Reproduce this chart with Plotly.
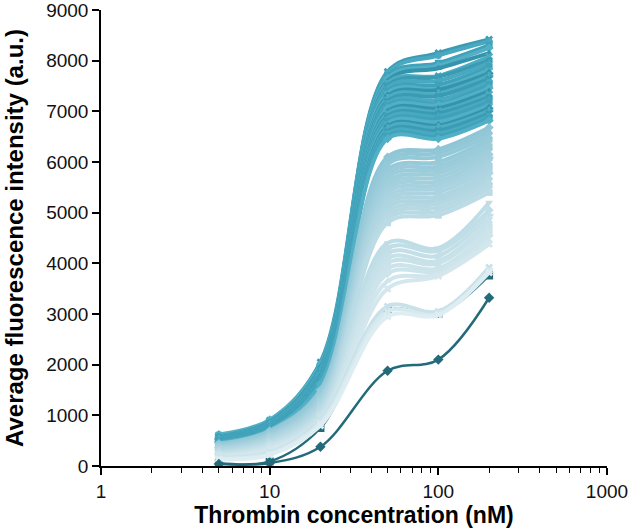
import plotly.graph_objects as go

conc = [5, 10, 20, 50, 100, 200]

# Bright teal group (high responders)
teal_rows = [
    [610, 900, 2050, 7780, 8150, 8420],
    [600, 890, 2000, 7750, 8100, 8380],
    [590, 880, 1980, 7700, 7950, 8300],
    [620, 910, 2010, 7650, 7900, 8250],
    [580, 870, 1950, 7600, 7850, 8150],
    [575, 860, 1940, 7560, 7700, 8080],
    [570, 850, 1930, 7500, 7680, 8000],
    [560, 845, 1900, 7460, 7600, 7950],
    [555, 840, 1890, 7400, 7520, 7880],
    [550, 830, 1880, 7360, 7450, 7820],
    [545, 825, 1860, 7300, 7420, 7750],
    [540, 820, 1850, 7260, 7350, 7700],
    [535, 810, 1830, 7200, 7300, 7640],
    [530, 805, 1820, 7150, 7220, 7580],
    [525, 800, 1800, 7110, 7150, 7520],
    [520, 790, 1790, 7060, 7120, 7460],
    [515, 785, 1780, 7000, 7060, 7400],
    [510, 780, 1760, 6960, 7000, 7340],
    [505, 770, 1750, 6900, 6960, 7280],
    [500, 765, 1740, 6860, 6900, 7230],
    [495, 760, 1720, 6800, 6850, 7180],
    [490, 750, 1700, 6760, 6790, 7120],
    [485, 745, 1690, 6700, 6720, 7060],
    [480, 740, 1680, 6660, 6680, 7010],
    [475, 730, 1660, 6600, 6620, 6960],
    [470, 725, 1650, 6560, 6560, 6900],
    [465, 720, 1630, 6500, 6500, 6860],
    [460, 710, 1620, 6460, 6460, 6820],
]

# Lighter blue group (intermediate responders)
light_rows = [
    [440, 690, 1500, 6100, 6250, 6680],
    [430, 680, 1480, 6020, 6180, 6600],
    [420, 660, 1460, 5950, 6100, 6520],
    [410, 650, 1430, 5850, 6000, 6450],
    [400, 640, 1410, 5780, 5920, 6380],
    [390, 620, 1380, 5700, 5850, 6300],
    [380, 610, 1360, 5620, 5780, 6220],
    [370, 600, 1340, 5550, 5700, 6150],
    [360, 580, 1310, 5480, 5620, 6080],
    [350, 570, 1290, 5400, 5550, 6000],
    [340, 560, 1270, 5320, 5480, 5920],
    [330, 540, 1240, 5250, 5400, 5850],
    [320, 530, 1220, 5180, 5320, 5780],
    [310, 510, 1190, 5100, 5250, 5700],
    [300, 500, 1170, 5020, 5180, 5620],
    [290, 490, 1150, 4950, 5100, 5550],
    [280, 470, 1120, 4880, 5020, 5480],
    [270, 460, 1100, 4800, 4950, 5400],
    [260, 440, 1070, 4400, 4300, 5200],
    [250, 430, 1050, 4300, 4250, 5050],
    [240, 410, 1020, 4200, 4150, 4950],
    [230, 400, 1000, 4100, 4050, 4850],
    [220, 380, 970, 4000, 4000, 4750],
    [210, 370, 950, 3900, 3900, 4650],
    [200, 350, 920, 3800, 3850, 4550],
    [190, 340, 900, 3650, 3780, 4450],
    [180, 320, 870, 3500, 3750, 4380],
]

# Pale lines near the square series
pale_rows = [
    [170, 260, 900, 3150, 3050, 3920],
    [150, 240, 850, 3050, 3000, 3860],
    [130, 220, 800, 2950, 2980, 3820],
]

dark_square = [60, 90, 750, 3060, 3000, 3760]
dark_diamond = [40, 60, 380, 1880, 2100, 3320]

symbols = ["x", "circle", "square", "diamond", "triangle-up", "x", "circle",
           "star", "square", "triangle-down", "diamond", "cross"]


def lerp_color(c1, c2, t):
    a = [int(c1[i:i + 2], 16) for i in (1, 3, 5)]
    b = [int(c2[i:i + 2], 16) for i in (1, 3, 5)]
    return "#" + "".join(f"{round(a[k] + (b[k] - a[k]) * t):02x}" for k in range(3))


fig = go.Figure()

teal_cols = ["#3A9BB3", "#48A9C0", "#3FA2BA", "#52B0C6", "#3594AC", "#4CACC2"]
for i, row in enumerate(teal_rows):
    col = teal_cols[i % len(teal_cols)]
    fig.add_trace(go.Scatter(x=conc, y=row, mode="lines+markers",
                             line=dict(color=col, width=4, shape="spline", smoothing=1),
                             marker=dict(symbol=symbols[i % len(symbols)], size=7, color=col)))

m = len(light_rows)
for i, row in enumerate(light_rows):
    col = lerp_color("#8FC6D6", "#D3E7ED", i / (m - 1))
    fig.add_trace(go.Scatter(x=conc, y=row, mode="lines+markers",
                             line=dict(color=col, width=4, shape="spline", smoothing=1),
                             marker=dict(symbol=symbols[(i + 3) % len(symbols)], size=7, color=col)))

fig.add_trace(go.Scatter(x=conc, y=dark_square, mode="lines+markers",
                         line=dict(color="#236B7A", width=2.5, shape="spline", smoothing=1),
                         marker=dict(symbol="square", size=8, color="#236B7A")))

for i, row in enumerate(pale_rows):
    col = ["#C9E1E9", "#D6E9EF", "#DDEDF2"][i]
    fig.add_trace(go.Scatter(x=conc, y=row, mode="lines+markers",
                             line=dict(color=col, width=4, shape="spline", smoothing=1),
                             marker=dict(symbol="x", size=7, color=col)))

fig.add_trace(go.Scatter(x=conc, y=dark_diamond, mode="lines+markers",
                         line=dict(color="#236B7A", width=2.5, shape="spline", smoothing=1),
                         marker=dict(symbol="diamond", size=8, color="#236B7A")))

fig.update_layout(
    width=630, height=529,
    margin=dict(l=101, r=23, t=10, b=63),
    plot_bgcolor="white", paper_bgcolor="white",
    showlegend=False,
    font=dict(family="Liberation Sans, Arial, sans-serif", color="#111", size=19),
    xaxis=dict(type="log", range=[0, 3], tickvals=[1, 10, 100, 1000],
               ticktext=["1", "10", "100", "1000"], automargin=False,
               ticklabeloverflow="allow",
               showline=True, linecolor="black", linewidth=1.5,
               ticks="outside", ticklen=7, tickcolor="black", tickwidth=1.5,
               minor=dict(ticks="outside", ticklen=5, tickcolor="black", tickwidth=1, dtick="D1"),
               showgrid=False, zeroline=False,
               title=dict(text="<b>Thrombin concentration (nM)</b>", font=dict(size=23, color="black"), standoff=4)),
    yaxis=dict(range=[0, 9000], dtick=1000, automargin=False,
               ticklabeloverflow="allow",
               showline=True, linecolor="black", linewidth=1.5,
               ticks="outside", ticklen=7, tickcolor="black", tickwidth=1.5,
               showgrid=False, zeroline=False,
               title=dict(text="<b>Average fluorescence intensity (a.u.)</b>", font=dict(size=24, color="black"), standoff=16)),
)

fig.write_html("out.html", config={"displayModeBar": False},
               post_script="document.body.style.margin='0';document.body.style.padding='0';")
